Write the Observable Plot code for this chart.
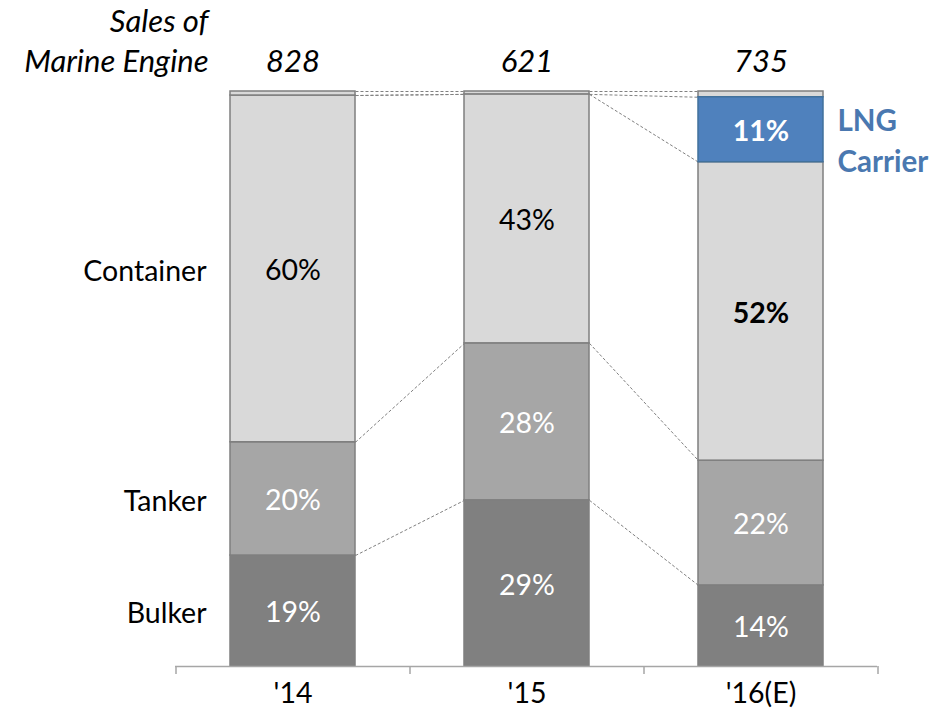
<!DOCTYPE html>
<html>
<head>
<meta charset="utf-8">
<script src="https://cdn.jsdelivr.net/npm/d3@7"></script>
<script src="https://cdn.jsdelivr.net/npm/@observablehq/plot@0.6"></script>
<style>
  html, body { margin: 0; padding: 0; background: #ffffff; }
</style>
</head>
<body>
<div id="chart"></div>
<script>
// ---- data ----
const years = ["'14", "'15", "'16(E)"];
const sales = [828, 621, 735];
const salesTitle = ["Sales of", "Marine Engine"];
const series = ["Bulker", "Tanker", "Container", "LNG Carrier", "Others"];
const bulker = [19.3, 28.9, 14.1];
const tanker = [19.7, 27.3, 21.7];
const container = [60.3, 43.3, 51.9];
const lngCarrier = [0, 0, 11.3];
const others = [0.7, 0.5, 1.0];
const bulkerLabels = ["19%", "29%", "14%"];
const tankerLabels = ["20%", "28%", "22%"];
const containerLabels = ["60%", "43%", "52%"];
const lngLabels = ["", "", "11%"];
const otherLabels = ["", "", ""];

const seriesValues = [bulker, tanker, container, lngCarrier, others];
const seriesLabels = [bulkerLabels, tankerLabels, containerLabels, lngLabels, otherLabels];
const seriesColors = ["#808080", "#a6a6a6", "#d9d9d9", "#4f81bd", "#d9d9d9"];

// ---- stacked table ----
const rows = [];
years.forEach((yr, i) => {
  let acc = 0;
  series.forEach((s, j) => {
    const v = seriesValues[j][i];
    rows.push({year: yr, series: s, value: v, label: seriesLabels[j][i], y1: acc, y2: acc + v, mid: acc + v / 2});
    acc += v;
  });
});
const links = [];
for (let i = 0; i < years.length - 1; i++) {
  series.forEach((s) => {
    const a = rows.find(d => d.year === years[i] && d.series === s);
    const b = rows.find(d => d.year === years[i + 1] && d.series === s);
    links.push({from: years[i], to: years[i + 1], a: a.y2, b: b.y2});
  });
}

// ---- layout ----
const W = 945, H = 710;
const mTop = 91, mBottom = 44, mLeft = 175, mRight = 68;
const xOpts = {type: "band", domain: years, range: [mLeft, W - mRight], paddingInner: 0.466, paddingOuter: 0.233};
const xs = Plot.scale({x: xOpts});
const half = xs.bandwidth / 2;
const step = xs.step;

// curve that runs from the right edge of one bar to the left edge of the next
const edgeCurve = (context) => {
  let n = 0;
  return {
    lineStart() { n = 0; },
    lineEnd() {},
    areaStart() {},
    areaEnd() {},
    point(x, y) {
      if (n++ === 0) context.moveTo(x + half, y);
      else context.lineTo(x - half, y);
    }
  };
};

const font = "Lato, 'Open Sans', sans-serif";
const blue = "#4a78b0";

const chart = Plot.plot({
  width: W,
  height: H,
  marginTop: mTop,
  marginBottom: mBottom,
  marginLeft: mLeft,
  marginRight: mRight,
  style: {fontFamily: font, fontSize: "28.5px", background: "#ffffff", color: "#000"},
  x: {...xOpts, axis: null},
  y: {domain: [0, 100], axis: null},
  color: {domain: series, range: seriesColors},
  marks: [
    Plot.link(links, {x1: "from", x2: "to", y1: "a", y2: "b", stroke: "#808080", strokeWidth: 1, strokeDasharray: "3,2", curve: edgeCurve}),
    Plot.barY(rows.filter(d => d.value > 0 && d.series !== "LNG Carrier"), {x: "year", y1: "y1", y2: "y2", fill: "series", stroke: "#7f7f7f", strokeWidth: 1.5}),
    Plot.barY(rows.filter(d => d.value > 0 && d.series === "LNG Carrier"), {x: "year", y1: "y1", y2: "y2", fill: "series", stroke: "#41719c", strokeWidth: 1.5}),
    // labels inside bars
    Plot.text(rows.filter(d => d.series === "Bulker" || d.series === "Tanker"), {x: "year", y: "mid", text: "label", dy: 2, fill: "#ffffff"}),
    Plot.text(rows.filter(d => d.series === "Container" && d.year !== years[2]), {x: "year", y: "mid", text: "label", dy: 2, fill: "#000000"}),
    Plot.text(rows.filter(d => d.series === "Container" && d.year === years[2]), {x: "year", y: "mid", text: "label", dy: 2, fill: "#000000", fontWeight: "bold"}),
    Plot.text(rows.filter(d => d.series === "LNG Carrier" && d.value > 0), {x: "year", y: "mid", text: "label", dy: 2, fill: "#ffffff", fontWeight: "bold"}),
    // series names to the left of the first bar
    Plot.text(rows.filter(d => d.year === years[0] && ["Bulker", "Tanker", "Container"].includes(d.series)), {x: "year", y: "mid", text: "series", textAnchor: "end", dx: -half - 24, dy: 3, fill: "#000000"}),
    // LNG Carrier name to the right of the last bar
    Plot.text(rows.filter(d => d.series === "LNG Carrier" && d.value > 0), {x: "year", y: "mid", text: d => d.series.replace(" ", "\n"), textAnchor: "start", dx: half + 14, dy: 9, lineHeight: 1.38, fill: blue, fontWeight: "bold", fontSize: 29.5}),
    // sales totals above bars
    Plot.text(years, {x: d => d, text: (d, i) => String(sales[i]), frameAnchor: "top", lineAnchor: "middle", dy: -29, fontStyle: "italic", fontSize: 31, fill: "#000000"}),
    Plot.text([years[0]], {x: d => d, text: () => salesTitle[1], frameAnchor: "top", lineAnchor: "middle", dy: -29, dx: -half - 22, textAnchor: "end", fontStyle: "italic", fontSize: 31, fill: "#000000"}),
    Plot.text([years[0]], {x: d => d, text: () => salesTitle[0], frameAnchor: "top", lineAnchor: "middle", dy: -69, dx: -half - 22, textAnchor: "end", fontStyle: "italic", fontSize: 31, fill: "#000000"}),
    // category axis
    Plot.ruleY([0], {stroke: "#a6a6a6", strokeWidth: 1.5}),
    Plot.ruleX(years, {x: d => d, y1: 0, y2: 0, insetBottom: -8, dx: -step / 2, stroke: "#a6a6a6", strokeWidth: 1.5}),
    Plot.ruleX([years[years.length - 1]], {x: d => d, y1: 0, y2: 0, insetBottom: -8, dx: step / 2, stroke: "#a6a6a6", strokeWidth: 1.5}),
    Plot.text(years, {x: d => d, frameAnchor: "bottom", lineAnchor: "middle", dy: 27, fill: "#000000"})
  ]
});
document.getElementById("chart").append(chart);
</script>
</body>
</html>
